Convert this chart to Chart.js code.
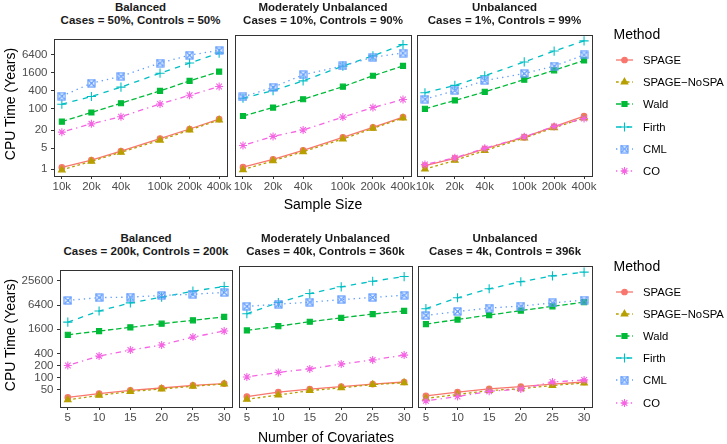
<!DOCTYPE html>
<html>
<head>
<meta charset="utf-8">
<script src="https://cdn.jsdelivr.net/npm/chart.js@4.4.1/dist/chart.umd.min.js"></script>
<style>
  body { margin: 0; width: 727px; height: 444px; background: #fff; position: relative; overflow: hidden;
         font-family: "Liberation Sans", Arial, sans-serif; }
  canvas.panel { position: absolute; }
  .txt { position: absolute; white-space: nowrap; transform: translate(-50%, -50%); }
  .strip { position: absolute; text-align: center; font-weight: bold; font-size: 11.5px; line-height: 13px;
           color: #1a1a1a; white-space: nowrap; transform: translateX(-50%); }
  .axtitle { font-size: 14px; color: #000; }
  .legtitle { position: absolute; font-size: 14px; color: #000; transform: translateY(-50%); }
  .leglab { position: absolute; font-size: 11.3px; color: #000; transform: translateY(-50%); white-space: nowrap; }
  canvas.key { position: absolute; }
</style>
</head>
<body>
<script>
// ---- data ----
const methods = ['SPAGE', 'SPAGE\u2212NoSPA', 'Wald', 'Firth', 'CML', 'CO'];

const sampleSizes = [10000, 20000, 40000, 100000, 200000, 400000];
const covariates = [5, 10, 15, 20, 25, 30];

const sizeTicks = [10000, 20000, 40000, 100000, 200000, 400000];
const covTicks = [5, 10, 15, 20, 25, 30];
const timeTicksTop = [1, 5, 20, 100, 400, 1600, 6400];
const timeTicksBottom = [50, 100, 200, 400, 1600, 6400, 25600];

const sizeTitles = [
  ['Balanced', 'Cases = 50%, Controls = 50%'],
  ['Moderately Unbalanced', 'Cases = 10%, Controls = 90%'],
  ['Unbalanced', 'Cases = 1%, Controls = 99%']
];
const covTitles = [
  ['Balanced', 'Cases = 200k, Controls = 200k'],
  ['Moderately Unbalanced', 'Cases = 40k, Controls = 360k'],
  ['Unbalanced', 'Cases = 4k, Controls = 396k']
];

// rows follow `methods`: SPAGE, SPAGE-NoSPA, Wald, Firth, CML, CO
const sizeBalanced = [
  [1.15, 2.03, 4.0, 10.4, 21.6, 46],
  [0.95, 1.84, 3.66, 9.2, 20, 43],
  [38, 76, 154, 395, 845, 1710],
  [143, 257, 525, 1520, 3300, 7060],
  [264, 710, 1200, 3300, 6000, 8700],
  [17, 32, 55, 146, 282, 550]
];
const sizeModerate = [
  [1.15, 2.05, 4.0, 10.4, 21.6, 46],
  [0.95, 1.84, 3.6, 9.2, 20, 43],
  [50, 93, 172, 434, 970, 2000],
  [185, 326, 665, 1980, 4200, 9600],
  [204, 414, 1045, 2000, 3800, 5160],
  [5.7, 11.1, 17.8, 46, 93, 168]
];
const sizeUnbalanced = [
  [1.3, 2.2, 4.4, 10.5, 23, 49.5],
  [1.0, 1.9, 3.9, 9.9, 21, 43],
  [85, 157, 297, 730, 1450, 3000],
  [277, 476, 970, 2680, 6000, 12700],
  [172, 326, 680, 1140, 1980, 4500],
  [1.4, 2.3, 4.6, 10.8, 23, 41.5]
];
const covBalanced = [
  [32, 40, 48, 55, 64, 71],
  [28, 36, 45, 52, 61, 69],
  [1160, 1440, 1780, 2200, 2670, 3250],
  [2400, 4550, 7250, 10100, 14200, 18600],
  [8340, 9800, 10100, 11100, 11900, 13200],
  [200, 346, 485, 646, 1020, 1440]
];
const covModerate = [
  [33, 42, 50, 57, 66, 74],
  [28.3, 36, 46, 53.5, 64, 71],
  [1290, 1630, 2090, 2590, 3200, 3810],
  [3250, 6060, 9960, 14500, 19700, 25600],
  [4900, 5540, 6180, 7120, 8050, 9100],
  [98, 126, 153, 200, 252, 329]
];
const covUnbalanced = [
  [34.4, 42, 50.7, 57, 66, 74],
  [29.8, 37, 46, 51, 61, 70],
  [1840, 2360, 3030, 3880, 4910, 6180],
  [4300, 7900, 13000, 19200, 26500, 32700],
  [2970, 3680, 4470, 4980, 5930, 6960],
  [26, 33, 44, 50, 74, 83]
];

// ---- look ----
const FONT = '"Liberation Sans", Arial, sans-serif';
const INK = '#333333';

// ggplot-ish boxed cross for CML
function boxCross(color) {
  const c = document.createElement('canvas');
  c.width = 9; c.height = 9;
  const g = c.getContext('2d');
  g.strokeStyle = color; g.lineWidth = 1.2;
  g.strokeRect(1, 1, 7, 7);
  g.beginPath();
  g.moveTo(1, 1); g.lineTo(8, 8);
  g.moveTo(8, 1); g.lineTo(1, 8);
  g.stroke();
  return c;
}

const styles = [
  { color: '#F8766D', dash: [], point: 'circle', r: 2.8 },
  { color: '#B79F00', dash: [2.7, 2.7], point: 'triangle', r: 3.8 },
  { color: '#00BA38', dash: [5.4, 2.7], point: 'rect', r: 3.6 },
  { color: '#00BFC4', dash: [5.4, 5.4], point: 'cross', r: 4.6 },
  { color: '#619CFF', dash: [1.35, 4], point: boxCross('#619CFF'), r: 4 },
  { color: '#F564E3', dash: [1.35, 4, 5.4, 4], point: 'star', r: 4 }
];

const frame = {
  id: 'frame',
  afterDraw(chart) {
    const { ctx, chartArea: a } = chart;
    ctx.save();
    ctx.strokeStyle = INK;
    ctx.lineWidth = 1;
    ctx.strokeRect(Math.round(a.left) + 0.5, Math.round(a.top) + 0.5,
                   Math.round(a.width), Math.round(a.height));
    ctx.restore();
  }
};

function text(str, x, y, cls) {
  const d = document.createElement('div');
  d.className = 'txt ' + (cls || '');
  d.style.left = x + 'px';
  d.style.top = y + 'px';
  d.textContent = str;
  document.body.appendChild(d);
  return d;
}

function strip(lines, box, top) {
  const d = document.createElement('div');
  d.className = 'strip';
  d.style.left = ((box.l + box.r) / 2) + 'px';
  d.style.top = top + 'px';
  d.innerHTML = lines[0] + '<br>' + lines[1];
  document.body.appendChild(d);
}

function panel(box, xs, rows, xCfg, yCfg, showY) {
  const padT = 2, padR = 16, xh = 24;
  const yw = showY ? box.l - 2 : 0;
  const padL = showY ? 0 : 16;
  const w = box.r - box.l, h = box.b - box.t;
  const cv = document.createElement('canvas');
  cv.className = 'panel';
  cv.width = padL + yw + w + padR;
  cv.height = padT + h + xh;
  cv.style.left = (box.l - yw - padL) + 'px';
  cv.style.top = (box.t - padT) + 'px';
  document.body.appendChild(cv);

  const datasets = rows.map((vals, i) => ({
    label: methods[i],
    data: xs.map((x, k) => ({ x, y: vals[k] })),
    borderColor: styles[i].color,
    backgroundColor: styles[i].color,
    borderWidth: 1.3,
    borderDash: styles[i].dash,
    pointStyle: styles[i].point,
    pointRadius: styles[i].r,
    pointBorderWidth: 1.1,
    pointBackgroundColor: styles[i].color,
    pointBorderColor: styles[i].color,
    tension: 0,
    order: rows.length - i
  }));

  const tickFont = { family: FONT, size: 11.5 };
  new Chart(cv, {
    type: 'line',
    data: { datasets },
    options: {
      responsive: false,
      animation: false,
      devicePixelRatio: 1,
      events: [],
      layout: { padding: { left: padL, right: padR, top: padT, bottom: 0 } },
      plugins: { legend: { display: false }, tooltip: { enabled: false } },
      scales: {
        x: {
          type: xCfg.type, min: xCfg.min, max: xCfg.max, offset: false,
          afterBuildTicks: a => { a.ticks = xCfg.ticks.map(v => ({ value: v })); },
          afterFit: a => { a.height = xh; },
          grid: { drawOnChartArea: false, drawTicks: true, tickLength: 3, color: INK },
          border: { display: false },
          ticks: { font: tickFont, color: '#4d4d4d', padding: 1, maxRotation: 0, autoSkip: false,
                   callback: xCfg.label }
        },
        y: {
          type: 'logarithmic', min: yCfg.min, max: yCfg.max, display: showY,
          afterBuildTicks: a => { a.ticks = yCfg.ticks.map(v => ({ value: v })); },
          afterFit: a => { a.width = yw; },
          grid: { drawOnChartArea: false, drawTicks: true, tickLength: 3, color: INK },
          border: { display: false },
          ticks: { font: tickFont, color: '#4d4d4d', padding: 3.5, autoSkip: false,
                   callback: v => String(v) }
        }
      }
    },
    plugins: [frame]
  });
}

function legend(titleY) {
  const tl = document.createElement('div');
  tl.className = 'legtitle';
  tl.style.left = '613.5px';
  tl.style.top = titleY + 'px';
  tl.textContent = 'Method';
  document.body.appendChild(tl);

  methods.forEach((m, i) => {
    const cy = titleY + 26 + i * 22.2;
    const k = document.createElement('canvas');
    k.className = 'key';
    k.width = 22; k.height = 16;
    k.style.left = '614px';
    k.style.top = Math.round(cy - 8) + 'px';
    document.body.appendChild(k);
    const g = k.getContext('2d');
    const s = styles[i];
    g.strokeStyle = s.color; g.fillStyle = s.color;
    g.lineWidth = 1.3;
    g.setLineDash(s.dash);
    g.beginPath(); g.moveTo(2, 8); g.lineTo(19, 8); g.stroke();
    g.setLineDash([]);
    g.lineWidth = 1.1;
    Chart.helpers.drawPoint(g, { pointStyle: s.point, radius: s.r, rotation: 0, borderWidth: 1.1 }, 10.5, 8);

    const lb = document.createElement('div');
    lb.className = 'leglab';
    lb.style.left = '643px';
    lb.style.top = cy + 'px';
    lb.textContent = m;
    document.body.appendChild(lb);
  });
}

// ---- top row: CPU time vs sample size ----
const topBoxes = [
  { l: 54, r: 227, t: 31, b: 176 },
  { l: 235, r: 411, t: 31, b: 176 },
  { l: 417, r: 592, t: 31, b: 176 }
];
const sizeX = { type: 'logarithmic', min: 8318, max: 481000, ticks: sizeTicks, label: v => (v / 1000) + 'k' };
const topY = { min: 0.62, max: 20000, ticks: timeTicksTop };
[sizeBalanced, sizeModerate, sizeUnbalanced].forEach((rows, p) => {
  panel(topBoxes[p], sampleSizes, rows, sizeX, topY, p === 0);
  strip(sizeTitles[p], topBoxes[p], 0.5);
});

// ---- bottom row: CPU time vs number of covariates ----
const botBoxes = [
  { l: 60, r: 232, t: 262, b: 407 },
  { l: 239, r: 412, t: 262, b: 407 },
  { l: 418, r: 592, t: 262, b: 407 }
];
const covX = { type: 'linear', min: 3.75, max: 31.25, ticks: covTicks, label: v => String(v) };
const botY = { min: 18.5, max: 46700, ticks: timeTicksBottom };
[covBalanced, covModerate, covUnbalanced].forEach((rows, p) => {
  panel(botBoxes[p], covariates, rows, covX, botY, p === 0);
  strip(covTitles[p], botBoxes[p], 231.5);
});

// axis titles
text('Sample Size', 323, 204, 'axtitle');
text('Number of Covariates', 326, 436.5, 'axtitle');
const yt1 = text('CPU Time (Years)', 10, 103.5, 'axtitle');
yt1.style.transform = 'translate(-50%, -50%) rotate(-90deg)';
const yt2 = text('CPU Time (Years)', 10, 335, 'axtitle');
yt2.style.transform = 'translate(-50%, -50%) rotate(-90deg)';

legend(34);
legend(265.5);
</script>
</body>
</html>
